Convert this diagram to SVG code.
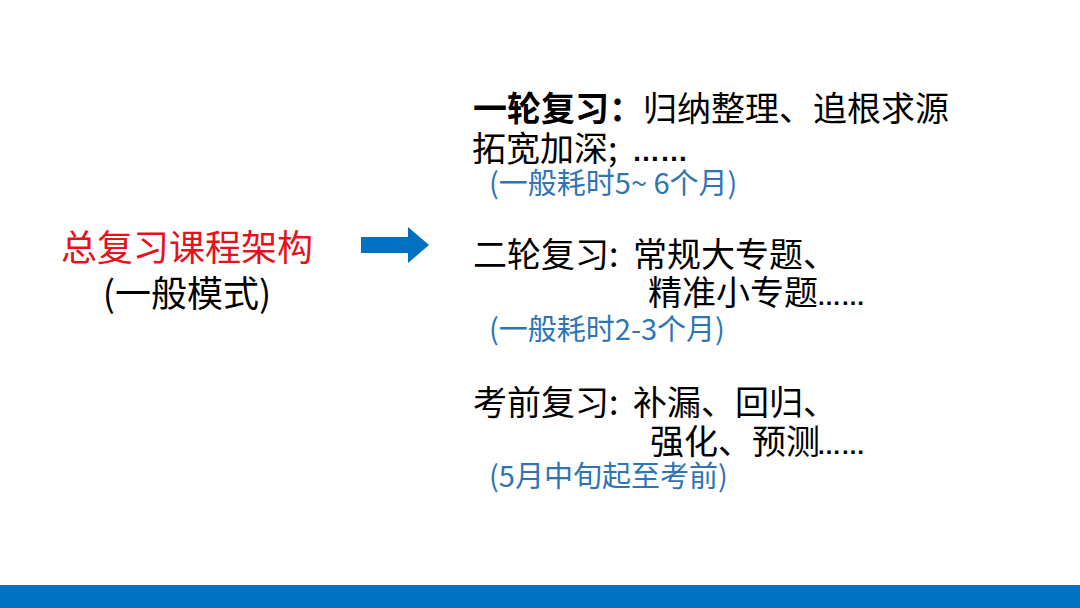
<svg xmlns="http://www.w3.org/2000/svg" width="1080" height="608" viewBox="0 0 1080 608">
<style>
.cn{font-family:"Noto Sans CJK SC","Noto Sans",sans-serif;}
.main{font-size:34px;fill:#000;}
.note{font-size:29px;fill:#2E75B6;}
.dots{font-family:"Liberation Sans",sans-serif;font-weight:bold;}
</style>
<rect x="0" y="0" width="1080" height="608" fill="#FFFFFF"/>
<rect x="0" y="585" width="1080" height="23" fill="#0070C0"/>
<g id="title">
<text class="cn" x="187" y="261" text-anchor="middle" font-size="36" fill="#E8101A">总复习课程架构</text>
<text class="cn" x="187" y="307" text-anchor="middle" font-size="36" fill="#000">(一般模式)</text>
</g>
<g id="connectors">
<polygon points="361,237 408,237 408,227 429,245 408,263 408,253 361,253" fill="#0070C0"/>
</g>
<g id="round1">
<text class="cn main" y="121"><tspan x="473" font-weight="bold">一轮复习：</tspan><tspan>归纳整理、追根求源</tspan></text>
<text class="cn main" y="161"><tspan x="472">拓宽加深;</tspan><tspan x="632" class="dots" font-size="28">……</tspan></text>
<text class="cn note" x="489" y="194">(一般耗时5~ 6个月)</text>
</g>
<g id="round2">
<text class="cn main" y="267"><tspan x="473">二轮复习:</tspan><tspan x="633">常规大专题、</tspan></text>
<text class="cn main" y="305"><tspan x="648">精准小专题</tspan><tspan x="817" class="dots" font-size="24">……</tspan></text>
<text class="cn note" x="489" y="340">(一般耗时2-3个月)</text>
</g>
<g id="round3">
<text class="cn main" y="415"><tspan x="473">考前复习:</tspan><tspan x="633">补漏、回归、</tspan></text>
<text class="cn main" y="454"><tspan x="650">强化、预测</tspan><tspan x="817" class="dots" font-size="24">……</tspan></text>
<text class="cn note" x="489" y="487">(5月中旬起至考前)</text>
</g>
</svg>
